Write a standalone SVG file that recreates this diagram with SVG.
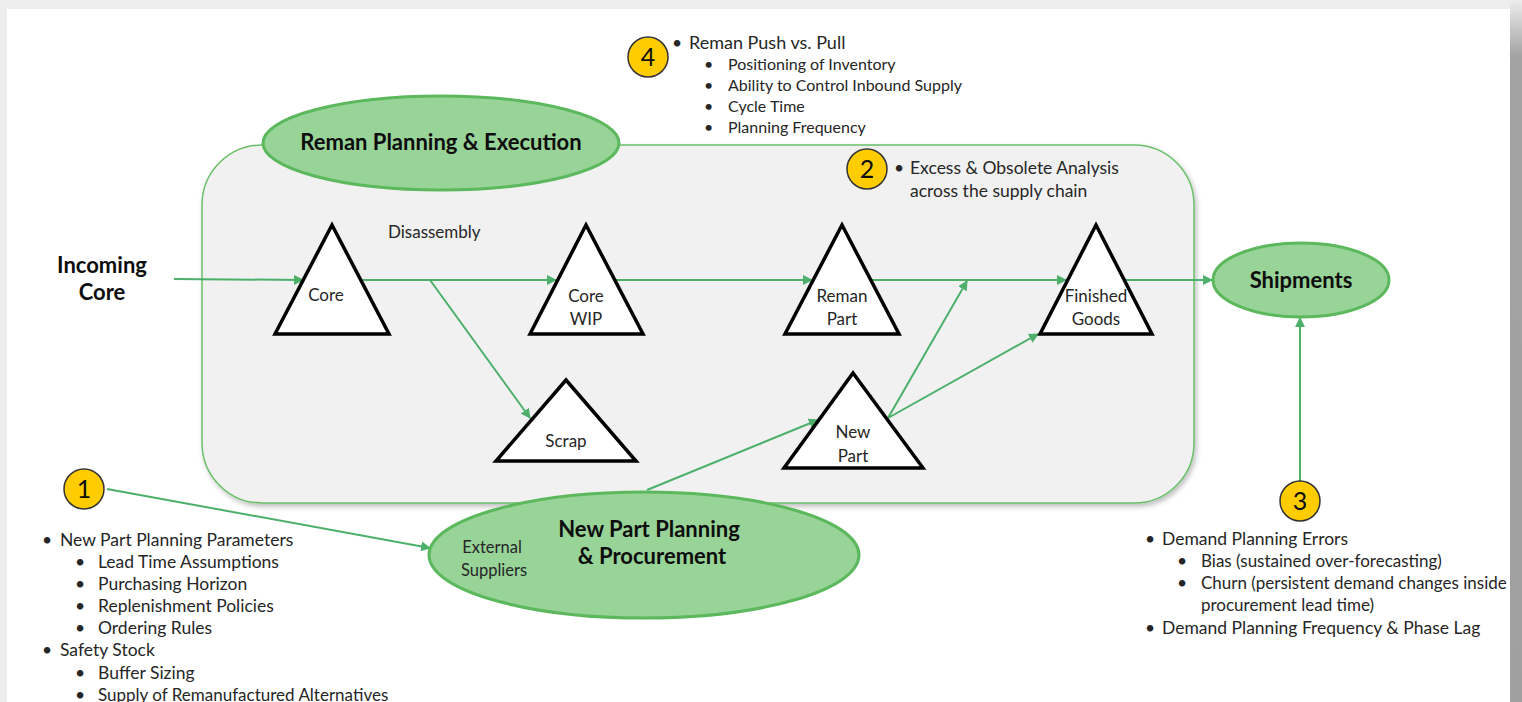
<svg xmlns="http://www.w3.org/2000/svg" width="1522" height="702" viewBox="0 0 1522 702">
  <style>
    text { font-family: Lato, "Open Sans", "Liberation Sans", sans-serif; fill: #262626; }
    .lbl { font-size: 17px; text-anchor: middle; }
    .small { font-size: 16.5px; }
    .bold { font-weight: bold; fill: #0d0d0d; font-size: 22px; text-anchor: middle; }
    .note { font-size: 17.5px; }
    .note.tight { font-size: 17px; }
    .head4 { font-size: 18px; }
    .sub4 { font-size: 16px; }
    .num { font-size: 25px; text-anchor: middle; fill: #0d0d0d; }
    .tri { fill: #ffffff; stroke: #000000; stroke-width: 3.5; stroke-linejoin: miter; }
    .oval { fill: #98d398; stroke: #5cb85c; stroke-width: 3; }
    .badge { fill: #ffcc00; stroke: #333333; stroke-width: 1.5; }
    .flow { stroke: #4caf6a; stroke-width: 2; fill: none; marker-end: url(#arrow); }
  </style>
  <defs>
    <marker id="arrow" viewBox="0 0 10 10" refX="9" refY="5" markerWidth="5" markerHeight="5" orient="auto" markerUnits="strokeWidth">
      <path d="M0,0 L10,5 L0,10 z" fill="#4caf6a"/>
    </marker>
    <filter id="shadow" x="-5%" y="-5%" width="110%" height="115%">
      <feDropShadow dx="2" dy="3" stdDeviation="2.5" flood-color="#000000" flood-opacity="0.25"/>
    </filter>
    <linearGradient id="edge" x1="0" y1="0" x2="0" y2="1">
      <stop offset="0" stop-color="#ececec"/>
      <stop offset="0.08" stop-color="#a3a3a3"/>
      <stop offset="1" stop-color="#a0a0a0"/>
    </linearGradient>
  </defs>

  <!-- page -->
  <rect x="0" y="0" width="1522" height="702" fill="#ededed"/>
  <rect x="7" y="9" width="1503" height="693" fill="#ffffff"/>
  <rect x="1510" y="0" width="12" height="702" fill="url(#edge)"/>

  <!-- process frame -->
  <g id="reman-frame">
    <rect x="202" y="145" width="992" height="358" rx="60" ry="60" fill="#f1f1f1" stroke="#6abf69" stroke-width="1.5" filter="url(#shadow)"/>
  </g>

  <!-- connectors -->
  <g id="connectors">
    <line class="flow" x1="174" y1="279" x2="303" y2="280"/>
    <line class="flow" x1="362" y1="280" x2="556" y2="280"/>
    <line class="flow" x1="430" y1="280" x2="530" y2="418"/>
    <line class="flow" x1="614" y1="280" x2="812" y2="280"/>
    <line class="flow" x1="871" y1="280" x2="1066" y2="280"/>
    <line class="flow" x1="888" y1="418" x2="967" y2="281"/>
    <line class="flow" x1="888" y1="418" x2="1038" y2="334"/>
    <line class="flow" x1="1125" y1="280" x2="1212" y2="280"/>
    <line class="flow" x1="1300" y1="481" x2="1300" y2="318"/>
    <line class="flow" x1="647" y1="490" x2="818" y2="420"/>
    <line class="flow" x1="107" y1="489" x2="430" y2="548"/>
  </g>

  <!-- stage ovals -->
  <g id="reman-planning">
    <ellipse class="oval" cx="441" cy="143" rx="178" ry="47"/>
    <text class="bold" x="441" y="150">Reman Planning &amp; Execution</text>
  </g>
  <g id="shipments">
    <ellipse class="oval" cx="1301" cy="280" rx="88" ry="37"/>
    <text class="bold" x="1301" y="288">Shipments</text>
  </g>
  <g id="new-part-planning">
    <ellipse class="oval" cx="644" cy="555" rx="215" ry="63"/>
    <text class="bold" x="649" y="537">New Part Planning</text>
    <text class="bold" x="652" y="564">&amp; Procurement</text>
    <text class="lbl small" x="492" y="553">External</text>
    <text class="lbl small" x="494" y="576">Suppliers</text>
  </g>

  <!-- incoming -->
  <g id="incoming-core">
    <text class="bold" x="102" y="273">Incoming</text>
    <text class="bold" x="102" y="300">Core</text>
  </g>

  <!-- inventory points -->
  <g id="core">
    <polygon class="tri" points="332,225 389,334 275,334"/>
    <text class="lbl" x="326" y="301">Core</text>
  </g>
  <g id="disassembly">
    <text x="388" y="238" font-size="17">Disassembly</text>
  </g>
  <g id="core-wip">
    <polygon class="tri" points="586,225 643,334 530,334"/>
    <text class="lbl" x="586" y="302">Core</text>
    <text class="lbl" x="586" y="325">WIP</text>
  </g>
  <g id="reman-part">
    <polygon class="tri" points="842,225 899,334 785,334"/>
    <text class="lbl" x="842" y="302">Reman</text>
    <text class="lbl" x="842" y="325">Part</text>
  </g>
  <g id="finished-goods">
    <polygon class="tri" points="1096,225 1152,334 1040,334"/>
    <text class="lbl" x="1096" y="302">Finished</text>
    <text class="lbl" x="1096" y="325">Goods</text>
  </g>
  <g id="scrap">
    <polygon class="tri" points="566,380 636,461 496,461"/>
    <text class="lbl" x="566" y="447">Scrap</text>
  </g>
  <g id="new-part">
    <polygon class="tri" points="853,373 923,468 784,468"/>
    <text class="lbl" x="853" y="438">New</text>
    <text class="lbl" x="853" y="462">Part</text>
  </g>

  <!-- callout 4 -->
  <g id="callout-4">
    <circle class="badge" cx="648" cy="57" r="20"/>
    <text class="num" x="648" y="66">4</text>
    <text class="note" x="672" y="49">•</text>
    <text class="head4" x="689" y="49">Reman Push vs. Pull</text>
    <text class="sub4" x="704" y="70">•</text>
    <text class="sub4" x="728" y="70">Positioning of Inventory</text>
    <text class="sub4" x="704" y="91">•</text>
    <text class="sub4" x="728" y="91">Ability to Control Inbound Supply</text>
    <text class="sub4" x="704" y="112">•</text>
    <text class="sub4" x="728" y="112">Cycle Time</text>
    <text class="sub4" x="704" y="133">•</text>
    <text class="sub4" x="728" y="133">Planning Frequency</text>
  </g>

  <!-- callout 2 -->
  <g id="callout-2">
    <circle class="badge" cx="867" cy="169" r="20"/>
    <text class="num" x="867" y="178">2</text>
    <text class="note" x="894" y="174">•</text>
    <text class="note" x="910" y="174">Excess &amp; Obsolete Analysis</text>
    <text class="note" x="910" y="197">across the supply chain</text>
  </g>

  <!-- callout 1 -->
  <g id="callout-1">
    <circle class="badge" cx="84" cy="489" r="20"/>
    <text class="num" x="84" y="498">1</text>
    <text class="note" x="42" y="546">•</text>
    <text class="note" x="60" y="546">New Part Planning Parameters</text>
    <text class="note" x="75" y="568">•</text>
    <text class="note" x="98" y="568">Lead Time Assumptions</text>
    <text class="note" x="75" y="590">•</text>
    <text class="note" x="98" y="590">Purchasing Horizon</text>
    <text class="note" x="75" y="612">•</text>
    <text class="note" x="98" y="612">Replenishment Policies</text>
    <text class="note" x="75" y="634">•</text>
    <text class="note" x="98" y="634">Ordering Rules</text>
    <text class="note" x="42" y="656">•</text>
    <text class="note" x="60" y="656">Safety Stock</text>
    <text class="note" x="75" y="679">•</text>
    <text class="note" x="98" y="679">Buffer Sizing</text>
    <text class="note" x="75" y="701">•</text>
    <text class="note tight" x="98" y="701">Supply of Remanufactured Alternatives</text>
  </g>

  <!-- callout 3 -->
  <g id="callout-3">
    <circle class="badge" cx="1300" cy="501" r="20"/>
    <text class="num" x="1300" y="510">3</text>
    <text class="note" x="1145" y="545">•</text>
    <text class="note" x="1162" y="545">Demand Planning Errors</text>
    <text class="note" x="1177" y="567">•</text>
    <text class="note tight" x="1201" y="567">Bias (sustained over-forecasting)</text>
    <text class="note" x="1177" y="589">•</text>
    <text class="note tight" x="1201" y="589">Churn (persistent demand changes inside</text>
    <text class="note tight" x="1201" y="611">procurement lead time)</text>
    <text class="note" x="1145" y="634">•</text>
    <text class="note" x="1162" y="634">Demand Planning Frequency &amp; Phase Lag</text>
  </g>
</svg>
